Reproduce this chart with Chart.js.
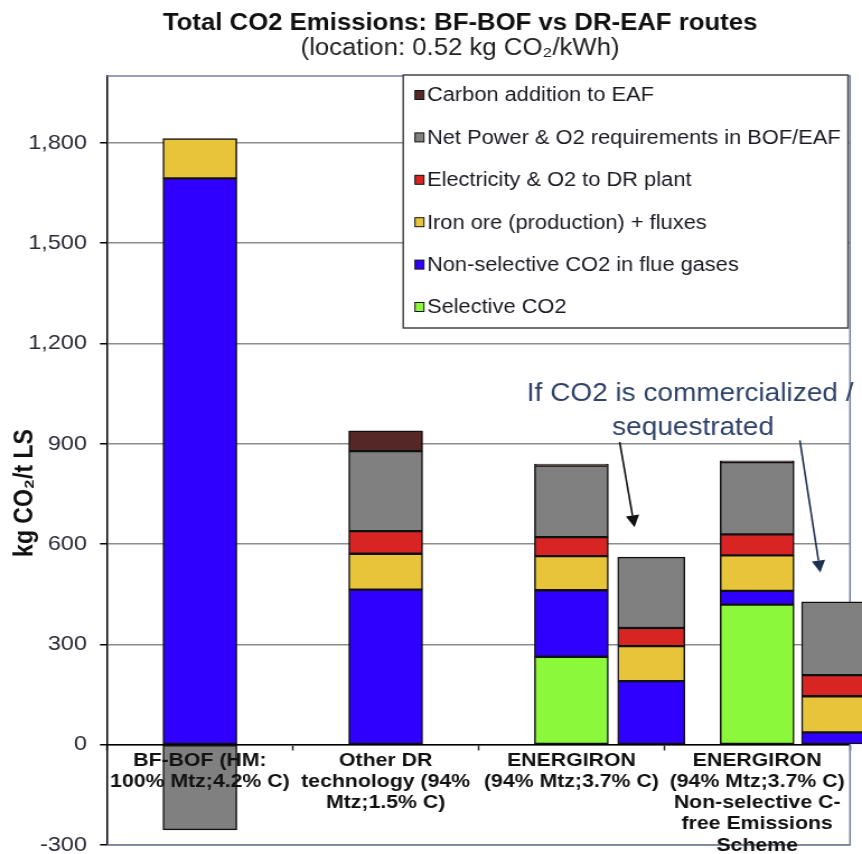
<!DOCTYPE html>
<html>
<head>
<meta charset="utf-8">
<title>Total CO2 Emissions: BF-BOF vs DR-EAF routes</title>
<script src="https://cdn.jsdelivr.net/npm/chart.js@4/dist/chart.umd.min.js"></script>
<style>
  html, body { margin: 0; padding: 0; background: #fff; }
  #chart { display: block; }
</style>
</head>
<body>
<!-- the source lettering is a bit wide for its height, so the canvas is stretched sideways -->
<canvas id="chart" width="770" height="854" style="width:862px;height:854px"></canvas>
<script>
// Categories (x axis labels, one array per line)
const categories = [
  ['BF-BOF (HM:', '100% Mtz;4.2% C)'],
  ['Other DR', 'technology (94%', 'Mtz;1.5% C)'],
  ['ENERGIRON', '(94% Mtz;3.7% C)'],
  ['ENERGIRON', '(94% Mtz;3.7% C)', 'Non-selective C-', 'free Emissions', 'Scheme']
];
const mainX = [0.5, 1.5, 2.5, 3.5];
const seqX = [2.93, 3.92]; // bars "if CO2 is commercialized / sequestrated"

// kg CO2 / t LS, main bars
const selectiveCO2 = [null, null, 263, 419];
const nonSelective = [1694, 464, 199, 41];
const ironOre = [119, 107, 102, 106];
const electricity = [null, 68, 57, 63];
const netPower = [-255, 239, 214, 216];
const carbonEAF = [null, 61, 4, 4];

// kg CO2 / t LS, sequestrated bars
const nonSelectiveSeq = [190, 37];
const ironOreSeq = [105, 108];
const electricitySeq = [54, 63];
const netPowerSeq = [212, 219];

const yTicks = [-300, 0, 300, 600, 900, 1200, 1500, 1800];

const seriesNames = [
  'Selective CO2',
  'Non-selective CO2 in flue gases',
  'Iron ore (production) + fluxes',
  'Electricity & O2 to DR plant',
  'Net Power & O2 requirements in BOF/EAF',
  'Carbon addition to EAF'
];
const seriesColors = ['#8cf83c', '#3000ff', '#e8c43a', '#d92424', '#808080', '#562727'];

const FONT = '"Liberation Sans", Arial, sans-serif';
Chart.defaults.font.family = FONT;

// Build datasets (bottom to top of the stack)
const mainSeries = [selectiveCO2, nonSelective, ironOre, electricity, netPower, carbonEAF];
const seqSeries = [null, nonSelectiveSeq, ironOreSeq, electricitySeq, netPowerSeq, null];

const barStyle = { borderColor: '#111', borderWidth: 1.5, borderSkipped: false, grouped: false, clip: false };
const datasets = [];
mainSeries.forEach((vals, i) => {
  datasets.push(Object.assign({
    label: seriesNames[i],
    data: vals.map((v, j) => ({ x: mainX[j], y: v })),
    backgroundColor: seriesColors[i],
    barThickness: 66
  }, barStyle));
});
seqSeries.forEach((vals, i) => {
  if (!vals) return;
  datasets.push(Object.assign({
    label: seriesNames[i] + ' (sequestrated)',
    data: vals.map((v, j) => ({ x: seqX[j], y: v })),
    backgroundColor: seriesColors[i],
    barThickness: 60
  }, barStyle));
});

// Plot frame (top, right, bottom) in blue-grey
const framePlugin = {
  id: 'frame',
  beforeDatasetsDraw(chart) {
    const { ctx, chartArea: a } = chart;
    ctx.save();
    ctx.strokeStyle = '#74809f';
    ctx.lineWidth = 1.5;
    ctx.beginPath();
    ctx.moveTo(a.left, a.top);
    ctx.lineTo(a.right, a.top);
    ctx.lineTo(a.right, a.bottom);
    ctx.lineTo(a.left, a.bottom);
    ctx.stroke();
    ctx.restore();
  }
};

function arrow(ctx, x1, y1, x2, y2, color) {
  const ang = Math.atan2(y2 - y1, x2 - x1);
  const len = 12, half = 6;
  ctx.strokeStyle = color;
  ctx.fillStyle = color;
  ctx.lineWidth = 1.6;
  ctx.beginPath();
  ctx.moveTo(x1, y1);
  ctx.lineTo(x2 - Math.cos(ang) * len, y2 - Math.sin(ang) * len);
  ctx.stroke();
  ctx.beginPath();
  ctx.moveTo(x2, y2);
  ctx.lineTo(x2 - Math.cos(ang) * len - Math.sin(ang) * half, y2 - Math.sin(ang) * len + Math.cos(ang) * half);
  ctx.lineTo(x2 - Math.cos(ang) * len + Math.sin(ang) * half, y2 - Math.sin(ang) * len - Math.cos(ang) * half);
  ctx.closePath();
  ctx.fill();
}

// Titles, axis title, legend box and the note with arrows
const decorPlugin = {
  id: 'decor',
  afterDraw(chart) {
    const { ctx, scales: { x, y } } = chart;
    ctx.save();

    // title + subtitle
    ctx.fillStyle = '#111';
    ctx.textAlign = 'center';
    ctx.textBaseline = 'alphabetic';
    ctx.font = 'bold 23px ' + FONT;
    ctx.fillText('Total CO2 Emissions: BF-BOF vs DR-EAF routes', 411, 29.5);
    ctx.font = '23px ' + FONT;
    ctx.fillStyle = '#222';
    ctx.fillText('(location: 0.52 kg CO\u2082/kWh)', 411, 55);

    // y axis title
    ctx.save();
    ctx.translate(28.6, 493);
    ctx.rotate(-Math.PI / 2);
    ctx.font = 'bold 23px ' + FONT;
    ctx.fillStyle = '#111';
    ctx.fillText('kg CO\u2082/t LS', 0, 0);
    ctx.restore();

    // legend (top entry = top of the stack)
    const lx = 360.2, ly = 75, lw = 397.3, lh = 253;
    ctx.fillStyle = '#fff';
    ctx.fillRect(lx, ly, lw, lh);
    ctx.strokeStyle = '#444';
    ctx.lineWidth = 1.5;
    ctx.strokeRect(lx, ly, lw, lh);
    ctx.font = '19.5px ' + FONT;
    ctx.textAlign = 'left';
    ctx.textBaseline = 'middle';
    for (let k = 0; k < seriesNames.length; k++) {
      const i = seriesNames.length - 1 - k;
      const cy = 95 + k * 42.4;
      ctx.fillStyle = seriesColors[i];
      ctx.fillRect(370.7, cy - 4.5, 8, 9);
      ctx.strokeStyle = '#111';
      ctx.lineWidth = 1;
      ctx.strokeRect(370.7, cy - 4.5, 8, 9);
      ctx.fillStyle = '#1a1a24';
      ctx.fillText(seriesNames[i], 381.4, cy + 1);
    }

    // note
    ctx.fillStyle = '#2f4368';
    ctx.font = '25px ' + FONT;
    ctx.textBaseline = 'alphabetic';
    ctx.textAlign = 'left';
    ctx.fillText('If CO2 is commercialized /', x.getPixelForValue(2.26), y.getPixelForValue(1029));
    ctx.textAlign = 'center';
    ctx.fillText('sequestrated', x.getPixelForValue(3.155), y.getPixelForValue(927));
    arrow(ctx, x.getPixelForValue(2.76), y.getPixelForValue(905), x.getPixelForValue(2.84), y.getPixelForValue(650), '#111');
    arrow(ctx, x.getPixelForValue(3.73), y.getPixelForValue(910), x.getPixelForValue(3.84), y.getPixelForValue(515), '#1f3050');

    ctx.restore();
  }
};

new Chart(document.getElementById('chart'), {
  type: 'bar',
  data: { datasets },
  options: {
    responsive: false,
    devicePixelRatio: 1,
    animation: false,
    layout: { padding: { top: 76, right: 10.7, bottom: 9, left: 0 } },
    plugins: {
      legend: { display: false },
      tooltip: { enabled: false }
    },
    scales: {
      x: {
        type: 'linear',
        min: 0,
        max: 4,
        offset: false,
        position: { y: 0 },
        grid: { offset: true, drawOnChartArea: false, drawTicks: true, tickLength: 5, tickColor: '#222', tickWidth: 1.5 },
        border: { color: '#000', width: 1.5 },
        afterBuildTicks: s => { s.ticks = mainX.map(v => ({ value: v })); },
        afterFit: s => { s.paddingLeft = 0; s.paddingRight = 0; },
        ticks: {
          autoSkip: false,
          maxRotation: 0,
          minRotation: 0,
          padding: 0,
          z: 1,
          color: '#111',
          font: { size: 19, weight: 'bold', lineHeight: 1.12 },
          callback: (v, i) => categories[i]
        }
      },
      y: {
        stacked: true,
        min: -300,
        max: 2000,
        afterBuildTicks: s => { s.ticks = yTicks.map(v => ({ value: v })); },
        afterFit: s => { s.width = 95.6; s.paddingTop = 0; s.paddingBottom = 0; },
        grid: { color: '#8c8c8c', lineWidth: 1.5, tickColor: '#000', tickLength: 6.3, tickWidth: 1.5 },
        border: { color: '#000', width: 1.5 },
        ticks: {
          padding: 11.6,
          color: '#2a2a38',
          font: { size: 21 },
          callback: v => v.toLocaleString('en-US')
        }
      }
    }
  },
  plugins: [framePlugin, decorPlugin]
});
</script>
</body>
</html>
